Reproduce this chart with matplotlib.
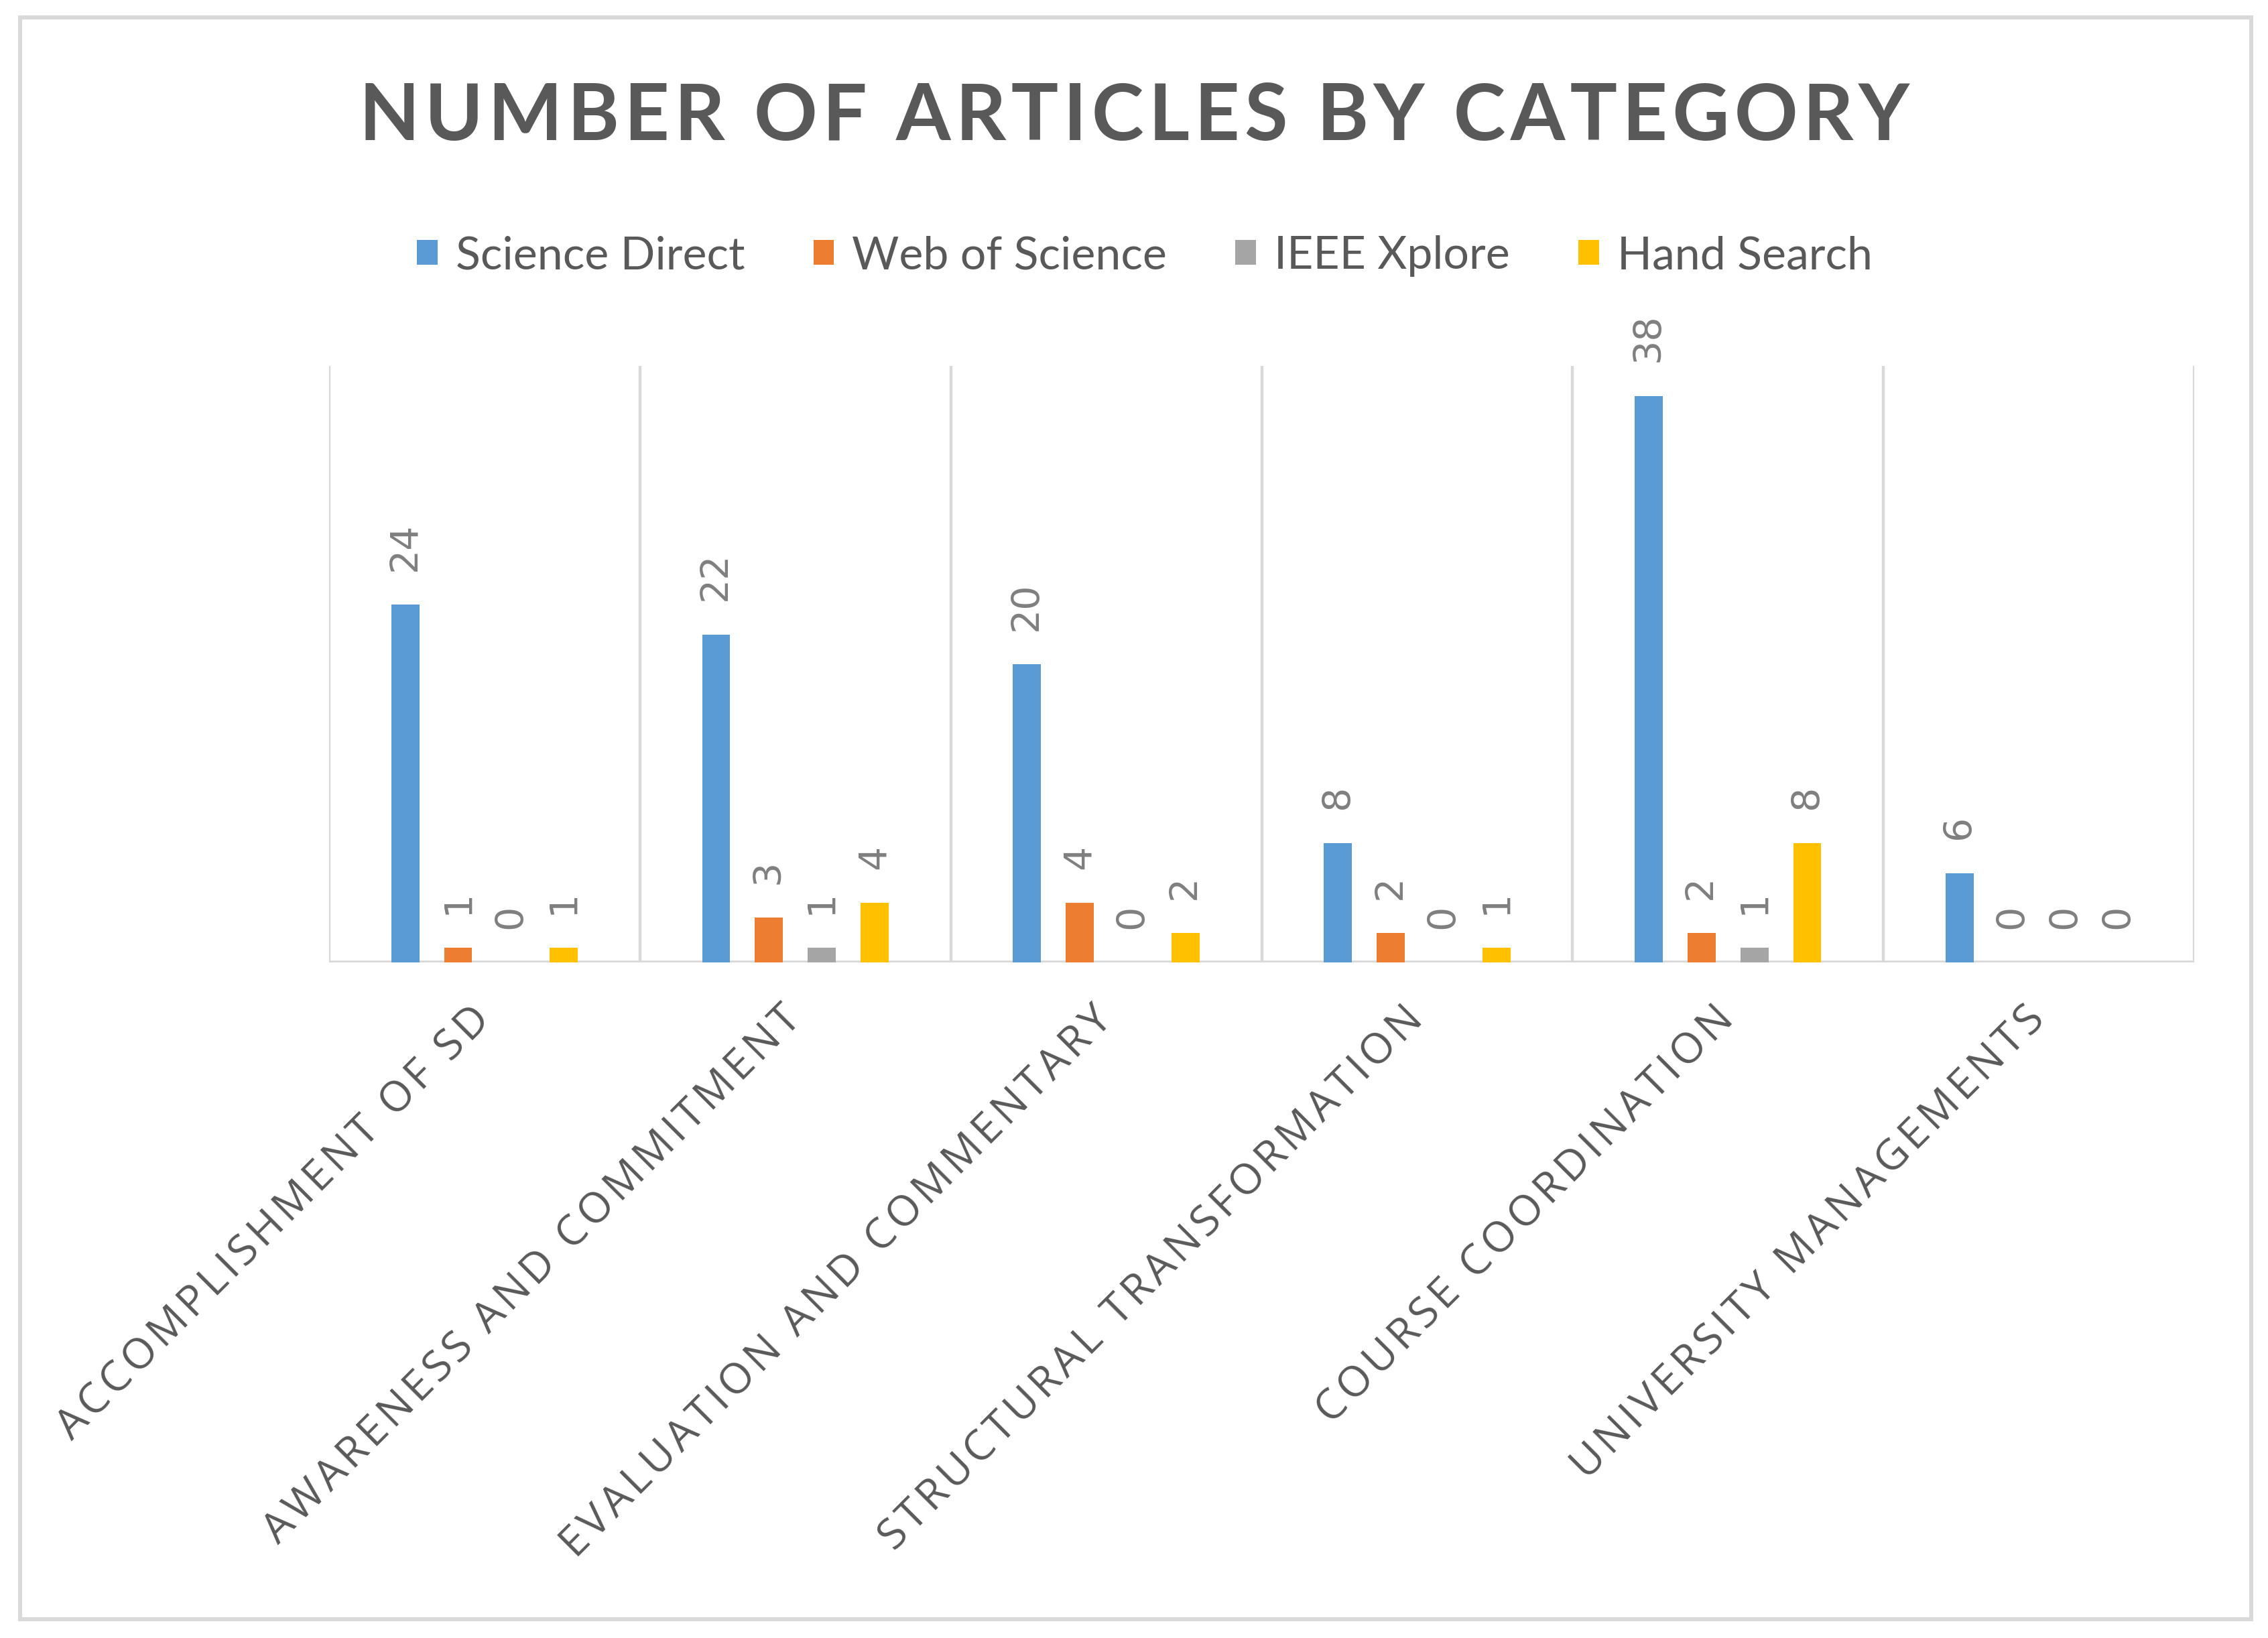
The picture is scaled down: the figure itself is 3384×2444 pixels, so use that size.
import matplotlib
matplotlib.use('Agg')
import matplotlib.pyplot as plt
import numpy as np
from matplotlib.patches import Patch, Rectangle

# data
categories = ['ACCOMPLISHMENT OF SD', 'AWARENESS AND COMMITMENT', 'EVALUATION AND COMMENTARY',
              'STRUCTURAL TRANSFORMATION', 'COURSE COORDINATION', 'UNIVERSITY MANAGEMENTS']
series_names = ['Science Direct', 'Web of Science', 'IEEE Xplore', 'Hand Search']
science_direct = [24, 22, 20, 8, 38, 6]
web_of_science = [1, 3, 4, 2, 2, 0]
ieee_xplore = [0, 1, 0, 0, 1, 0]
hand_search = [1, 4, 2, 1, 8, 0]
colors = ['#5b9bd5', '#ed7d31', '#a5a5a5', '#ffc000']

W, H, DPI = 3384, 2444, 100
fig = plt.figure(figsize=(W / DPI, H / DPI), dpi=DPI)
ax = fig.add_axes([491 / W, 1 - 1436 / H, (3274 - 491) / W, (1436 - 546) / H])

# outer chart border
fig.patches.append(Rectangle((30 / W, 1 - 2416 / H), (3359 - 30) / W, (2416 - 26) / H,
                             transform=fig.transFigure, fill=False,
                             edgecolor='#d9d9d9', linewidth=4.3))

x = np.arange(len(categories))
pitch = 0.17
bw = 0.09
all_series = [science_direct, web_of_science, ieee_xplore, hand_search]
for i, vals in enumerate(all_series):
    pos = x + (i - 1.5) * pitch
    ax.bar(pos, vals, width=bw, color=colors[i], zorder=3)
    for px, v in zip(pos, vals):
        ax.annotate(str(v), (px, v), xytext=(0, 36), textcoords='offset points',
                    rotation=90, ha='center', va='bottom', fontsize=41,
                    color='#7f7f7f', family='DejaVu Sans')

# category separators and baseline
ax.vlines(np.arange(len(categories) + 1) - 0.5, 0, 40, color='#d9d9d9', linewidth=3.2, zorder=1)
ax.axhline(0, color='#d9d9d9', linewidth=4, zorder=2)

ax.set_xlim(-0.5, len(categories) - 0.5)
ax.set_ylim(0, 40)
for s in ax.spines.values():
    s.set_visible(False)
ax.set_yticks([])
ax.set_xticks(x)
# excel-style letter spacing with hair spaces
spaced = ['\u200a'.join(list(c)) for c in categories]
ax.set_xticklabels(spaced, rotation=45, ha='right', va='center', rotation_mode='anchor',
                   fontsize=45.5, color='#595959', family=['Open Sans', 'DejaVu Sans'])
ax.tick_params(axis='x', length=0, pad=55)

# title
fig.text(0.5, 1 - 175 / H, '\u200a'.join('NUMBER OF ARTICLES BY CATEGORY'), ha='center', va='center',
         fontsize=84.5, fontweight='bold', color='#595959', family=['Lato', 'DejaVu Sans'])

# legend
handles = [Patch(facecolor=c, edgecolor='none') for c in colors]
fig.legend(handles, series_names, loc='center', bbox_to_anchor=(1708 / W, 1 - 382 / H),
           ncol=4, frameon=False, labelcolor='#595959',
           handlelength=0.45, handleheight=0.45, handletextpad=0.4, columnspacing=1.5,
           prop={'family': 'Lato', 'size': 49})

fig.savefig('out.png', dpi=DPI, facecolor='white')
